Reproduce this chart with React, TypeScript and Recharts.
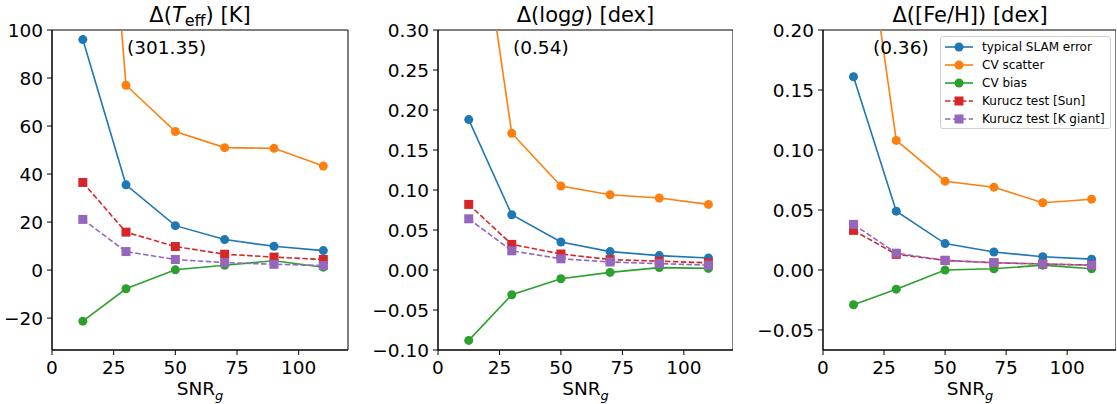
import React from 'react';
import { LineChart, Line, XAxis, YAxis, ReferenceArea } from 'recharts';

const SNR = [12.5, 30, 50, 70, 90, 110];
const X_TICKS = [0, 25, 50, 75, 100];

const NAMES = ['typical SLAM error', 'CV scatter', 'CV bias', 'Kurucz test [Sun]', 'Kurucz test [K giant]'];
const COLORS = ['#1f77b4', '#ff7f0e', '#2ca02c', '#d62728', '#9467bd'];
const DASHED = [false, false, false, true, true];

// Teff [K]
const TEFF_SLAM = [96.0, 35.5, 18.5, 12.7, 9.9, 8.1];
const TEFF_CV_SCATTER = [301.35, 77.0, 57.7, 51.0, 50.7, 43.3];
const TEFF_CV_BIAS = [-21.3, -7.8, 0.1, 2.0, 3.9, 1.2];
const TEFF_KURUCZ_SUN = [36.5, 15.8, 9.8, 6.6, 5.4, 4.4];
const TEFF_KURUCZ_KG = [21.1, 7.7, 4.4, 3.1, 2.4, 1.9];
const TEFF_TICKS = [-20, 0, 20, 40, 60, 80, 100];

// logg [dex]
const LOGG_SLAM = [0.188, 0.069, 0.035, 0.023, 0.018, 0.015];
const LOGG_CV_SCATTER = [0.54, 0.171, 0.105, 0.094, 0.09, 0.082];
const LOGG_CV_BIAS = [-0.088, -0.031, -0.011, -0.003, 0.003, 0.002];
const LOGG_KURUCZ_SUN = [0.082, 0.032, 0.02, 0.013, 0.011, 0.009];
const LOGG_KURUCZ_KG = [0.064, 0.024, 0.014, 0.01, 0.008, 0.006];
const LOGG_TICKS = [-0.1, -0.05, 0, 0.05, 0.1, 0.15, 0.2, 0.25, 0.3];

// [Fe/H] [dex]
const FEH_SLAM = [0.161, 0.049, 0.022, 0.015, 0.011, 0.009];
const FEH_CV_SCATTER = [0.36, 0.108, 0.074, 0.069, 0.056, 0.059];
const FEH_CV_BIAS = [-0.029, -0.016, 0.0, 0.001, 0.004, 0.001];
const FEH_KURUCZ_SUN = [0.033, 0.013, 0.008, 0.006, 0.005, 0.004];
const FEH_KURUCZ_KG = [0.038, 0.014, 0.008, 0.006, 0.005, 0.004];
const FEH_TICKS = [-0.05, 0, 0.05, 0.1, 0.15, 0.2];

const FONT = "'DejaVu Sans', sans-serif";
const KEYS = ['s0', 's1', 's2', 's3', 's4'];

function buildRows(series: number[][]) {
  return SNR.map((x, i) => {
    const row: Record<string, number> = { snr: x };
    series.forEach((s, k) => (row[KEYS[k]] = s[i]));
    return row;
  });
}

const fmt = (digits: number) => (v: number) => v.toFixed(digits).replace('-', '\u2212');

const squareDot = (color: string) => (props: any) => {
  const { cx, cy, index } = props;
  if (cx == null || cy == null) return <g key={index} />;
  return <rect key={index} x={cx - 4.5} y={cy - 4.5} width={9} height={9} fill={color} />;
};

type PanelProps = {
  left: number;
  width: number;
  yWidth: number;
  rightMargin: number;
  series: number[][];
  domain: [number, number];
  ticks: number[];
  digits: number;
};

function Panel({ left, width, yWidth, rightMargin, series, domain, ticks, digits }: PanelProps) {
  const data = buildRows(series);
  const tickStyle = { fontSize: 18.5, fill: '#000', fontFamily: FONT };
  return (
    <div style={{ position: 'absolute', left, top: 0 }}>
      <LineChart width={width} height={404} data={data} margin={{ top: 30, right: rightMargin, bottom: 24, left: 0 }}>
        <XAxis
          dataKey="snr"
          type="number"
          domain={[0, 120]}
          ticks={X_TICKS}
          allowDataOverflow
          height={30}
          tickSize={5}
          tickMargin={6}
          tick={tickStyle}
          stroke="#000"
          tickLine={{ stroke: '#000' }}
        />
        <YAxis
          type="number"
          domain={domain}
          ticks={ticks}
          allowDataOverflow
          width={yWidth}
          tickSize={5}
          tickMargin={4}
          tick={tickStyle}
          tickFormatter={fmt(digits)}
          stroke="#000"
          tickLine={{ stroke: '#000' }}
        />
        <ReferenceArea x1={0} x2={120} y1={domain[0]} y2={domain[1]} fill="none" stroke="#000" strokeWidth={1} />
        {KEYS.map((k, i) => (
          <Line
            key={k}
            dataKey={k}
            stroke={COLORS[i]}
            strokeWidth={1.6}
            strokeDasharray={DASHED[i] ? '5.5 2.4' : undefined}
            dot={DASHED[i] ? squareDot(COLORS[i]) : { r: 4.5, fill: COLORS[i], stroke: 'none' }}
            activeDot={false}
            isAnimationActive={false}
            type="linear"
          />
        ))}
      </LineChart>
    </div>
  );
}

const centered = (x: number, y: number, size: number): React.CSSProperties => ({
  position: 'absolute',
  left: x,
  top: y,
  transform: 'translate(-50%, -50%)',
  fontFamily: FONT,
  fontSize: size,
  whiteSpace: 'nowrap',
  lineHeight: 1,
  color: '#000',
});

const XLabel = ({ x }: { x: number }) => (
  <div style={{ ...centered(x, 380, 18.5), transform: 'translate(-50%, 0)', height: 20 }}>
    SNR<span style={{ fontSize: 13, fontStyle: 'italic', position: 'relative', top: 5 }}>g</span>
  </div>
);

function LegendBox() {
  return (
    <div
      style={{
        position: 'absolute',
        left: 940,
        top: 36,
        width: 171,
        height: 93,
        boxSizing: 'border-box',
        border: '1px solid #d0d0d0',
        borderRadius: 3,
        background: 'rgba(255,255,255,0.8)',
        fontFamily: FONT,
        fontSize: 12,
      }}
    >
      {NAMES.map((name, i) => (
        <div key={name} style={{ position: 'absolute', left: 4, top: 1 + i * 18, height: 18, display: 'flex', alignItems: 'center' }}>
          <svg width={28} height={12} style={{ display: 'block' }}>
            <line x1={0} x2={28} y1={6} y2={6} stroke={COLORS[i]} strokeWidth={1.6} strokeDasharray={DASHED[i] ? '5.5 2.4' : undefined} />
            {DASHED[i] ? (
              <rect x={9.5} y={1.5} width={9} height={9} fill={COLORS[i]} />
            ) : (
              <circle cx={14} cy={6} r={4.5} fill={COLORS[i]} />
            )}
          </svg>
          <span style={{ marginLeft: 9, lineHeight: 1 }}>{name}</span>
        </div>
      ))}
    </div>
  );
}

export default function App() {
  return (
    <div style={{ position: 'absolute', left: 0, top: 0, width: 1117, height: 404, background: '#fff', overflow: 'hidden' }}>
      <Panel
        left={0}
        width={360}
        yWidth={52}
        rightMargin={12}
        series={[TEFF_SLAM, TEFF_CV_SCATTER, TEFF_CV_BIAS, TEFF_KURUCZ_SUN, TEFF_KURUCZ_KG]}
        domain={[-33.3, 100]}
        ticks={TEFF_TICKS}
        digits={0}
      />
      <Panel
        left={370}
        width={363}
        yWidth={68}
        rightMargin={0}
        series={[LOGG_SLAM, LOGG_CV_SCATTER, LOGG_CV_BIAS, LOGG_KURUCZ_SUN, LOGG_KURUCZ_KG]}
        domain={[-0.1, 0.3]}
        ticks={LOGG_TICKS}
        digits={2}
      />
      <Panel
        left={750}
        width={366}
        yWidth={73}
        rightMargin={0}
        series={[FEH_SLAM, FEH_CV_SCATTER, FEH_CV_BIAS, FEH_KURUCZ_SUN, FEH_KURUCZ_KG]}
        domain={[-0.0667, 0.2]}
        ticks={FEH_TICKS}
        digits={2}
      />

      <div style={centered(200, 15, 21)}>
        Δ(<i>T</i>
        <span style={{ fontSize: 16, position: 'relative', top: 4 }}>eff</span>) [K]
      </div>
      <div style={centered(585.5, 15, 21)}>
        Δ(log<i>g</i>) [dex]
      </div>
      <div style={centered(970, 15, 21)}>Δ([Fe/H]) [dex]</div>

      <div style={{ ...centered(127, 47.5, 18.5), transform: 'translate(0, -50%)' }}>(301.35)</div>
      <div style={{ ...centered(513, 47.5, 18.5), transform: 'translate(0, -50%)' }}>(0.54)</div>
      <div style={{ ...centered(873, 47.5, 18.5), transform: 'translate(0, -50%)' }}>(0.36)</div>

      <XLabel x={200} />
      <XLabel x={585.5} />
      <XLabel x={970} />

      <LegendBox />
    </div>
  );
}
